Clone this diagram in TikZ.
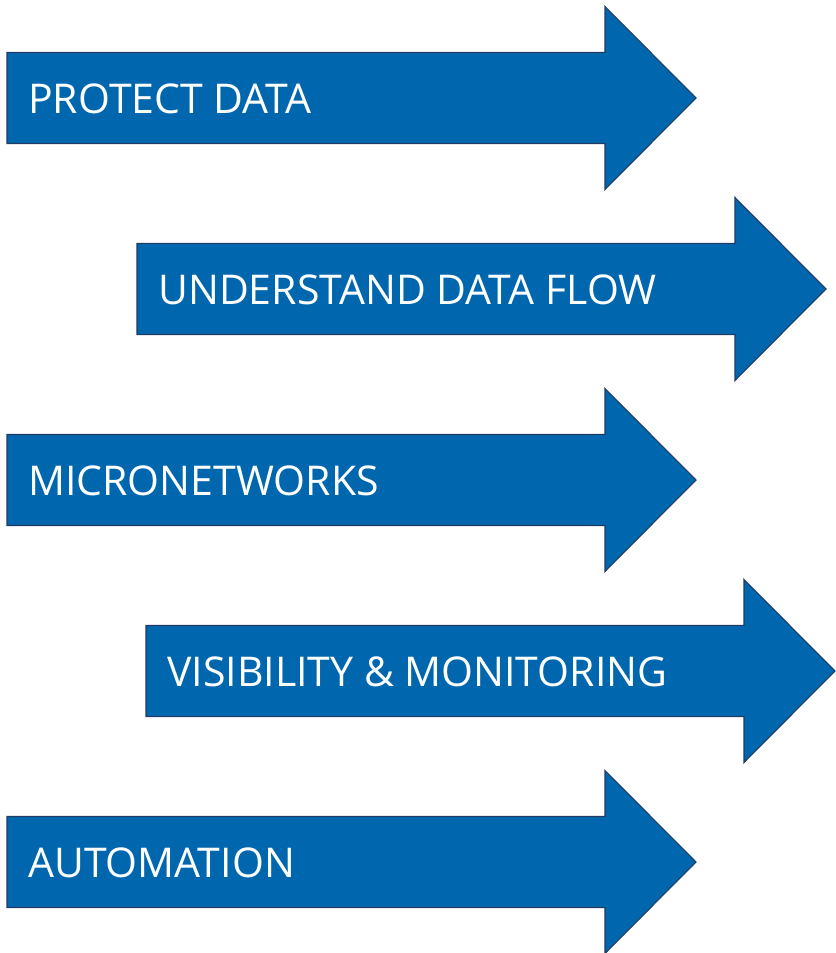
\documentclass[tikz,border=0pt]{standalone}
\usepackage{fontspec}
\setmainfont{Open Sans}
\usepackage{xcolor}
\usepackage{tikz}
\definecolor{arrowblue}{RGB}{0,103,174}
\definecolor{arrowedge}{RGB}{31,58,100}

\begin{document}
\begin{tikzpicture}
            [
            x=0.03cm, y=-0.03cm,
            band/.style={fill=arrowblue,draw=arrowedge,line width=0.9pt,line join=miter},
            caption/.style={text=white,anchor=base west,inner sep=0pt,font=\fontsize{35}{42}\selectfont}
            ]
        \useasboundingbox (0,0) rectangle (835,953);
        % shaft 598 long and 91 high, head 91 long and 183 high
        \foreach \x/\y/\n/\t in {7/98/protect/PROTECT DATA,
                                 137/289/flow/UNDERSTAND DATA FLOW,
                                 7/480/micro/MICRONETWORKS,
                                 146/671/visib/VISIBILITY \& MONITORING,
                                 7/862/auto/AUTOMATION}
        {
            \draw[band] (\x,\y-45.5) -- ++(598,0) -- ++(0,-46) -- ++(91,91.5)
                -- ++(-91,91.5) -- ++(0,-46) -- ++(-598,0) -- cycle;
            \node[caption] (\n) at (\x+21,\y+15) {\t};
        }
        \end{tikzpicture}
\end{document}
